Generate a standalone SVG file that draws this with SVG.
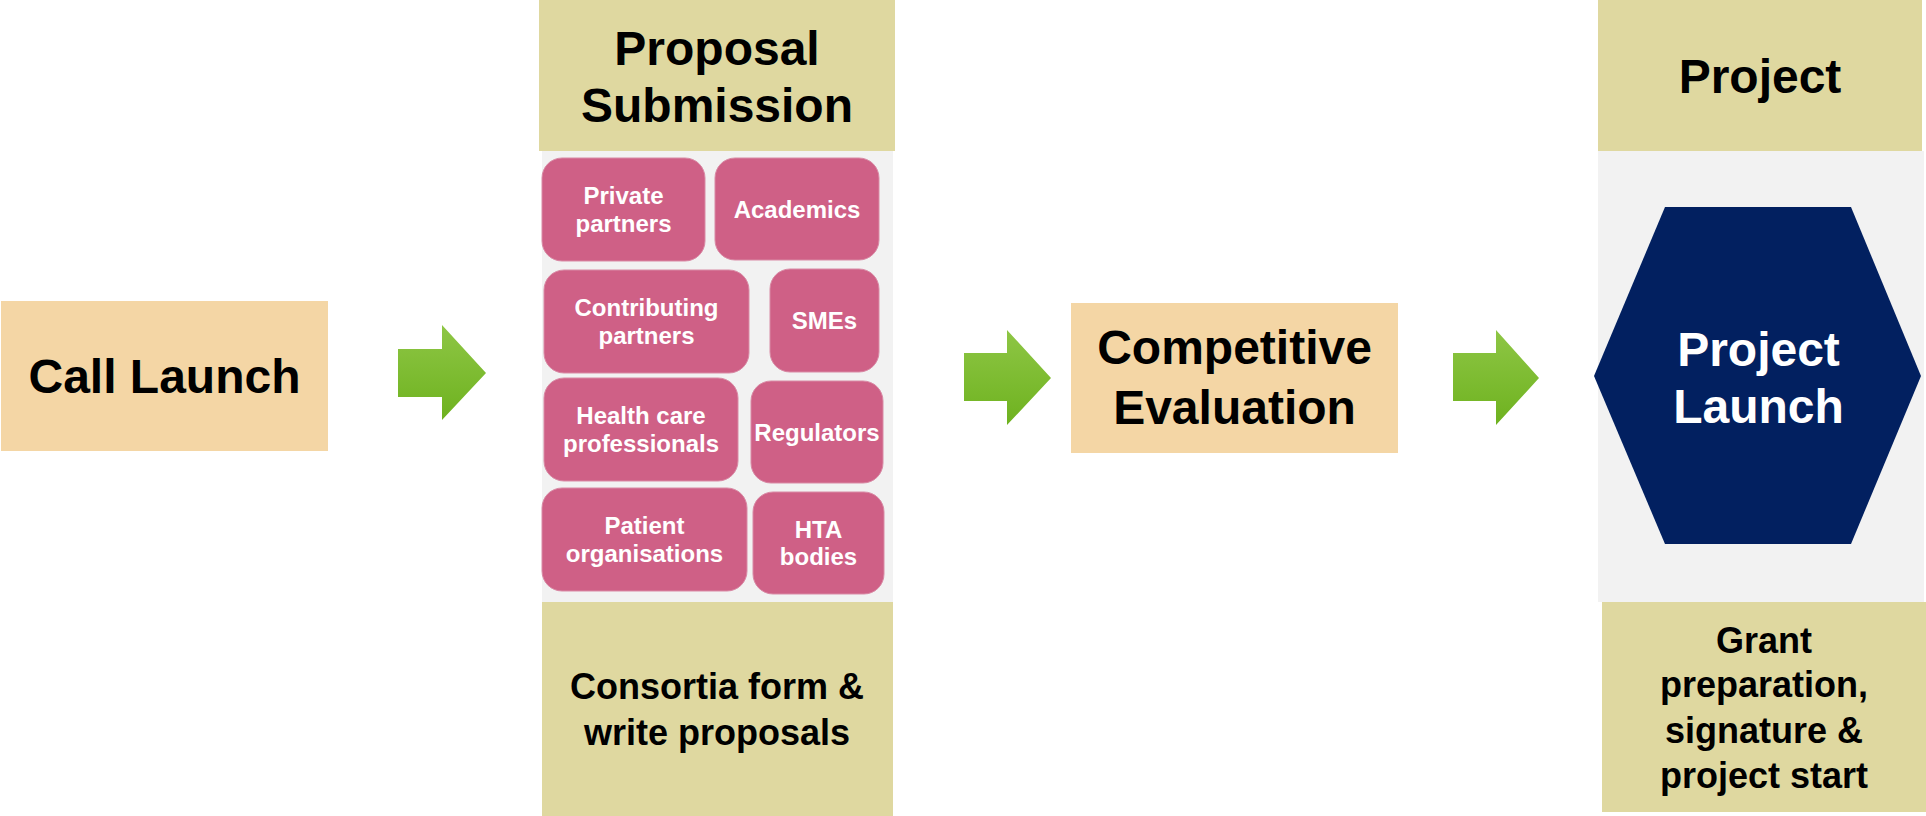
<svg xmlns="http://www.w3.org/2000/svg" width="1926" height="816" viewBox="0 0 1926 816">
<style>
text{font-family:"Liberation Sans",Arial,sans-serif;font-weight:bold;text-anchor:middle}
.hdr{fill:#DFD8A0}
.peach{fill:#F4D6A5}
.panel{fill:#F2F2F2}
.pink{fill:#CF6086;stroke:#D98AA5;stroke-width:1}
.pt{fill:#FFFFFF;font-size:24px}
.big{fill:#000000;font-size:48px}
.wt{fill:#FFFFFF;font-size:48px}
.mid{fill:#000000;font-size:36px}
.arrow{fill:url(#g)}
</style>
<defs>
<linearGradient id="g" x1="0" y1="0" x2="0" y2="1">
<stop offset="0" stop-color="#8EC645"/>
<stop offset="1" stop-color="#6EB21F"/>
</linearGradient>
</defs>
<rect width="1926" height="816" fill="#FFFFFF"/>

<g id="call-launch">
<rect class="peach" x="1" y="301" width="327" height="150"/>
<text class="big" x="164.5" y="393">Call Launch</text>
</g>

<g id="proposal-submission">
<rect class="panel" x="542" y="151" width="351" height="451"/>
<rect class="hdr" x="539" y="0" width="356" height="151"/>
<text class="big" x="717" y="65">Proposal</text>
<text class="big" x="717" y="122">Submission</text>
</g>

<g id="private-partners">
<rect class="pink" x="542" y="158" width="163" height="103" rx="20"/>
<text class="pt" x="623.5" y="204">Private</text>
<text class="pt" x="623.5" y="232">partners</text>
</g>
<g id="academics">
<rect class="pink" x="715" y="158" width="164" height="102" rx="20"/>
<text class="pt" x="797" y="218">Academics</text>
</g>
<g id="contributing-partners">
<rect class="pink" x="544" y="270" width="205" height="103" rx="20"/>
<text class="pt" x="646.5" y="316">Contributing</text>
<text class="pt" x="646.5" y="344">partners</text>
</g>
<g id="smes">
<rect class="pink" x="770" y="269" width="109" height="103" rx="20"/>
<text class="pt" x="824.5" y="329">SMEs</text>
</g>
<g id="health-care-professionals">
<rect class="pink" x="544" y="378" width="194" height="103" rx="20"/>
<text class="pt" x="641" y="424">Health care</text>
<text class="pt" x="641" y="452">professionals</text>
</g>
<g id="regulators">
<rect class="pink" x="751" y="381" width="132" height="102" rx="20"/>
<text class="pt" x="817" y="441">Regulators</text>
</g>
<g id="patient-organisations">
<rect class="pink" x="542" y="488" width="205" height="103" rx="20"/>
<text class="pt" x="644.5" y="534">Patient</text>
<text class="pt" x="644.5" y="562">organisations</text>
</g>
<g id="hta-bodies">
<rect class="pink" x="753" y="492" width="131" height="102" rx="20"/>
<text class="pt" x="818.5" y="538">HTA</text>
<text class="pt" x="818.5" y="565">bodies</text>
</g>

<g id="consortia">
<rect class="hdr" x="542" y="602" width="351" height="214"/>
<text class="mid" x="717" y="699">Consortia form &amp;</text>
<text class="mid" x="717" y="745">write proposals</text>
</g>

<g id="competitive-evaluation">
<rect class="peach" x="1071" y="303" width="327" height="150"/>
<text class="big" x="1234.5" y="364">Competitive</text>
<text class="big" x="1234.5" y="424">Evaluation</text>
</g>

<g id="project">
<rect class="panel" x="1598" y="151" width="326" height="451"/>
<rect class="hdr" x="1598" y="0" width="324" height="151"/>
<text class="big" x="1760" y="93">Project</text>
</g>

<g id="project-launch">
<polygon fill="#022060" points="1665,207 1851,207 1921,376 1851,544 1665,544 1594,376"/>
<text class="wt" x="1758.5" y="366">Project</text>
<text class="wt" x="1758.5" y="423">Launch</text>
</g>

<g id="grant">
<rect class="hdr" x="1602" y="602" width="324" height="210"/>
<text class="mid" x="1764" y="653">Grant</text>
<text class="mid" x="1764" y="697">preparation,</text>
<text class="mid" x="1764" y="743">signature &amp;</text>
<text class="mid" x="1764" y="788">project start</text>
</g>

<g id="connectors">
<polygon class="arrow" points="398,349 442,349 442,325 486,373 442,420 442,397 398,397"/>
<polygon class="arrow" points="964,353 1007,353 1007,330 1051,378 1007,425 1007,401 964,401"/>
<polygon class="arrow" points="1453,353 1496,353 1496,330 1539,378 1496,425 1496,401 1453,401"/>
</g>
</svg>
